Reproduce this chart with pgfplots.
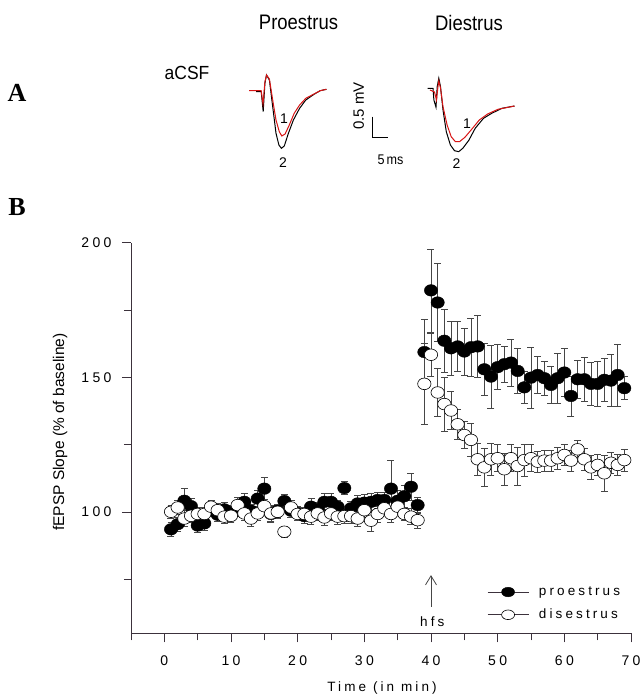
\documentclass[border=0pt]{standalone}
\usepackage{pgfplots}
\pgfplotsset{compat=1.18}
\usepackage{pgfplotstable}
\usepackage{fontspec}
\setmainfont{Liberation Sans}
\newfontfamily\serifA{Liberation Serif}
\newfontfamily\spaced[LetterSpace=23]{Liberation Sans}
\newfontfamily\spacedt[LetterSpace=24]{Liberation Sans}
\usetikzlibrary{arrows.meta}
\definecolor{axiscol}{RGB}{60,50,60}
\definecolor{errcol}{RGB}{70,70,70}
\definecolor{trred}{RGB}{215,20,20}

% panel B data: time (min), fEPSP slope (% baseline), s.e.m.
\pgfplotstableread{
x y e
1 93.6 2.5
2 95.5 2.5
3 104.2 4.6
4 102.2 3
5 95.0 2.5
6 95.8 2.5
7 101.0 2.5
8 99.0 2.5
9 101.0 2.5
10 100.0 2.5
11 101.5 3
12 103.8 3
13 100.5 2.5
14 105.0 3
15 108.7 4.1
16 99.3 3
17 100.5 2.5
18 104.1 2.5
19 100.5 2.5
20 99.5 2.5
21 98.5 2.5
22 102.0 3
23 101.0 2.5
24 103.8 3
25 103.8 3
26 102.0 2.5
27 108.9 2.5
28 101.4 2.5
29 103.2 3
30 103.5 3
31 103.8 3
32 104.5 3
33 104.5 3
34 108.7 10.4
35 104.2 4
36 105.9 4
37 109.4 5
38 102.6 3
39 159.4 12.3
40 182.3 15.4
41 177.8 14.6
42 163.6 11.8
43 160.8 10
44 161.5 9.3
45 159.6 8.7
46 161.2 10.8
47 161.5 11.4
48 153.0 9.5
49 150.3 11.7
50 153.8 8.3
51 154.9 6.6
52 155.5 8.7
53 152.4 8.4
54 146.3 6
55 149.9 11.3
56 150.9 6.8
57 149.7 6.2
58 147.2 7
59 149.7 9.3
60 151.8 9
61 143.1 7.4
62 149.3 7.2
63 149.3 8.2
64 147.6 7.9
65 147.6 8.3
66 149.1 8.1
67 148.8 9.6
68 150.9 11.5
69 146.0 4.3
}\pro

\pgfplotstableread{
x y e
1 100.1 2.5
2 101.7 2.5
3 97.6 3
4 98.6 2.5
5 99.3 2.5
6 99.3 2.5
7 102.0 2.5
8 100.7 2.5
9 98.3 2.5
10 98.6 2.5
11 102.6 3
12 99.5 2.5
13 97.6 3
14 99.5 2.5
15 102.2 2.5
16 99.5 3
17 100.1 2.5
18 92.7 1.9
19 101.7 2.5
20 99.3 2.5
21 99.3 2.5
22 98.3 3
23 99.5 2.5
24 98.0 3
25 99.5 2.5
26 98.3 3
27 98.5 2.5
28 98.5 2.5
29 97.6 3
30 100.7 2.5
31 96.8 4
32 99.3 3
33 101.4 2.5
34 99.3 3
35 102.0 2.5
36 99.3 2.5
37 98.3 3
38 97.0 3
39 147.6 15
40 158.4 8
41 144.4 9
42 140.1 10
43 137.7 7
44 132.6 5.5
45 128.6 5
46 126.8 6
47 119.6 6
48 116.6 7
49 119.6 6
50 120.0 5
51 115.9 6
52 120.0 5
53 117.1 7
54 119.3 6
55 120.0 5
56 118.7 4
57 119.1 4
58 119.1 4
59 120.0 4
60 121.2 4
61 119.1 4
62 123.3 3.2
63 119.6 4
64 116.6 4.5
65 117.5 4
66 114.4 6.8
67 118.3 4
68 117.5 4
69 119.3 4
}\die

% panel A traces (picture coordinates)
\pgfplotstableread{
x y
256.2 91.7
261.2 91.7
263.2 111.7
264.9 83.3
266.5 75
269.4 80
272.7 106.7
276.0 133.3
278.9 145
281.4 148.3
284.3 146
288.4 133.3
293.4 120
299.6 108.3
305.8 100
314.0 94.3
320.2 90.7
326.4 89.3
}\pb
\pgfplotstableread{
x y
249.2 90.7
261.2 90.7
263.0 104
264.9 82
266.5 75
269.4 79
272.7 100
276.0 120
279.3 131.7
281.8 136
285.1 134
289.3 125
294.2 113.3
299.6 105
305.8 98.3
314.0 94
320.2 90.7
326.4 89.3
}\pr
\pgfplotstableread{
x y
427.7 88.3
433.0 88.3
433.9 100
436.0 107.3
437.2 86.7
438.8 78.3
440.5 86.7
443.0 110
446.3 131.7
450.4 145
454.5 150.7
458.7 151.7
462.8 148.3
469.0 140
475.2 128.3
483.5 118.3
491.7 113.3
502.0 108.3
514.5 106
}\db
\pgfplotstableread{
x y
430.0 90
434.5 92
436.5 100
437.8 88
438.8 81
440.5 88
443.0 106.7
447.1 125
451.2 136.7
455.4 141.7
459.5 141.7
464.9 137.3
471.1 130
479.3 120
487.6 114
498.0 109.3
514.5 106
}\dr

\begin{document}
\begin{tikzpicture}
\useasboundingbox (0pt,0pt) rectangle (644pt,699pt);
% ---------- panel A ----------
\begin{axis}[at={(0pt,0pt)}, anchor=south west, scale only axis,
  width=644pt, height=699pt, xmin=0, xmax=644, ymin=0, ymax=699,
  y dir=reverse, hide axis, clip=false]
\addplot[black, line width=1.0pt, no markers] table {\pb};
\addplot[trred, line width=1.0pt, no markers] table {\pr};
\addplot[black, line width=1.0pt, no markers] table {\db};
\addplot[trred, line width=1.0pt, no markers] table {\dr};
\addplot[black, line width=0.9pt, no markers] coordinates {(372,116.7) (372,137.3) (388.4,137.3)};
\node[font=\fontsize{21}{24}\selectfont, xscale=0.88] at (axis cs:298.5,22.7) {Proestrus};
\node[font=\fontsize{21}{24}\selectfont, xscale=0.88] at (axis cs:469,22.7) {Diestrus};
\node[font=\serifA\bfseries\fontsize{26}{28}\selectfont] at (axis cs:17,93) {A};
\node[font=\serifA\bfseries\fontsize{26}{28}\selectfont] at (axis cs:17,207) {B};
\node[font=\fontsize{19}{22}\selectfont, xscale=0.92] at (axis cs:187,73) {aCSF};
\node[font=\fontsize{14}{16}\selectfont] at (axis cs:284,119) {1};
\node[font=\fontsize{14}{16}\selectfont] at (axis cs:283,163) {2};
\node[font=\fontsize{14}{16}\selectfont] at (axis cs:467,123.3) {1};
\node[font=\fontsize{14}{16}\selectfont] at (axis cs:456.6,163.3) {2};
\node[font=\fontsize{15}{17}\selectfont, rotate=90] at (axis cs:358.7,105.8) {0.5 mV};
\node[font=\fontsize{14}{16}\selectfont, xscale=0.9] at (axis cs:390.5,160) {5\,ms};
\end{axis}
% ---------- panel B ----------
\begin{axis}[at={(131pt,65.7pt)}, anchor=south west, scale only axis,
  width=500pt, height=390.6pt,
  xmin=-5, xmax=70, ymin=55, ymax=200,
  axis x line*=bottom, axis y line*=left,
  xtick={0,10,...,70}, minor xtick={-5,5,...,65},
  ytick={100,150,200}, minor ytick={75,125,175},
  tick align=outside, major tick length=9pt, minor tick length=7pt,
  tick style={axiscol, line width=0.8pt},
  axis line style={axiscol, line width=1pt},
  /pgf/number format/assume math mode=true,
  ticklabel style={font=\spacedt\fontsize{14}{16}\selectfont},
  xticklabel style={yshift=-10pt},
  yticklabel style={xshift=-7pt},
  xlabel={Time (in min)},
  ylabel={fEPSP Slope (\% of baseline)},
  every axis x label/.style={at={(axis description cs:0.502,-0.14)}, anchor=center, font=\spaced\fontsize{13.5}{15}\selectfont},
  every axis y label/.style={at={(axis description cs:-0.142,0.515)}, rotate=90, anchor=center, font=\fontsize{15.5}{17}\selectfont},
  legend style={at={(axis cs:48.4,66.0)}, anchor=west, draw=none, fill=none,
    inner sep=0pt, font=\spaced\fontsize{13.5}{15}\selectfont, row sep=8pt,
    /tikz/every odd column/.append style={column sep=8pt}},
  legend cell align=left,
  clip=false]
\addplot[only marks, mark=*, mark size=5.8pt,
  mark options={fill=black, draw=black, xscale=1.15},
  legend image code/.code={
    \draw[axiscol, line width=0.8pt] (0pt,0pt) -- (41pt,0pt);
    \draw[black, fill=black] (20.5pt,0pt) ellipse [x radius=6.5pt, y radius=4.8pt];},
  error bars/.cd, y dir=both, y explicit,
  error bar style={errcol, line width=0.7pt},
  error mark options={errcol, line width=0.7pt, mark size=3.5pt, rotate=90}]
  table[x=x, y=y, y error=e] {\pro};
\addlegendentry{proestrus}
\addplot[only marks, mark=*, mark size=5.8pt,
  mark options={fill=white, draw=black, line width=0.6pt, xscale=1.15},
  legend image code/.code={
    \draw[axiscol, line width=0.8pt] (0pt,0pt) -- (41pt,0pt);
    \draw[black, fill=white, line width=0.6pt] (20.5pt,0pt) ellipse [x radius=6.5pt, y radius=4.8pt];},
  error bars/.cd, y dir=both, y explicit,
  error bar style={errcol, line width=0.7pt},
  error mark options={errcol, line width=0.7pt, mark size=3.5pt, rotate=90}]
  table[x=x, y=y, y error=e] {\die};
\addlegendentry{disestrus}
\draw[errcol, line width=0.8pt, -{Straight Barb[length=9pt,width=11pt]}] (axis cs:40,64.8) -- (axis cs:40,76.6);
\node[font=\spaced\fontsize{13.5}{15}\selectfont] at (axis cs:40.2,59.2) {hfs};
\end{axis}
\end{tikzpicture}
\end{document}
